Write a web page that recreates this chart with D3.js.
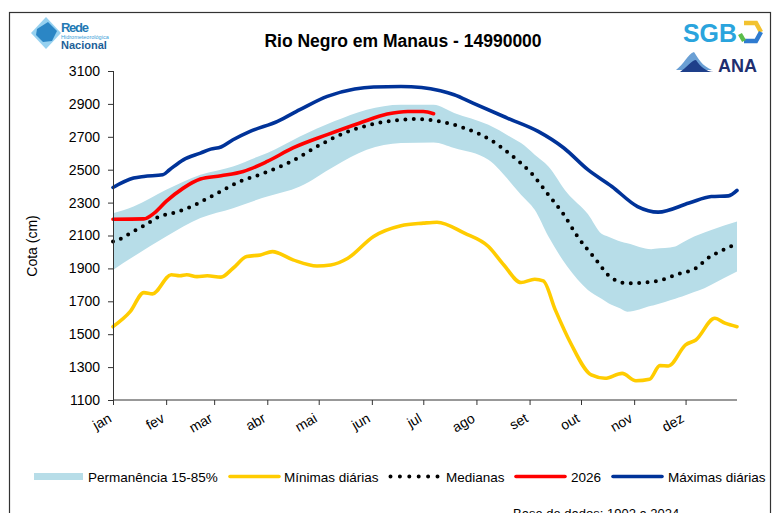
<!doctype html>
<html>
  <head>
    <meta charset="utf-8">
    <script src="https://cdnjs.cloudflare.com/ajax/libs/d3/7.8.5/d3.min.js"></script>
    <style>
      body { margin: 0; background: #fff; }
      svg { display: block; font-family: "Liberation Sans", Arial, sans-serif; }
      .axis text { font-size: 14px; fill: #000; }
      .axis path, .axis line { stroke: #333; }
      .legend text { font-size: 13.5px; fill: #000; }
    </style>
  </head>
  <body>
    <svg width="772" height="513"></svg>
    <script>
      // day of year (0 = 1 jan) and level in cm
      var months = ["jan", "fev", "mar", "abr", "mai", "jun", "jul", "ago", "set", "out", "nov", "dez"];
      var monthStart = [0, 31, 59, 90, 120, 151, 181, 212, 243, 273, 304, 334];
      var yTicks = [1100, 1300, 1500, 1700, 1900, 2100, 2300, 2500, 2700, 2900, 3100];

      var maximas = [[0,2392],[12,2449],[18,2459],[29,2469],[33,2500],[41,2560],[51,2601],[57,2625],
        [63,2638],[70,2682],[80,2733],[96,2794],[109,2865],[125,2946],[141,2991],[152,3003],[168,3006],
        [180,3000],[191,2980],[199,2956],[210,2905],[230,2814],[248,2733],[263,2632],[277,2500],
        [291,2398],[306,2276],[318,2242],[336,2297],[349,2337],[359,2341],[364,2374]];

      var perm85 = [[0,2235],[12,2276],[31,2378],[51,2469],[70,2520],[90,2601],[109,2702],[129,2794],
        [148,2865],[168,2895],[187,2895],[199,2845],[219,2773],[238,2662],[254,2520],[265,2358],
        [277,2230],[285,2110],[296,2063],[314,2017],[328,2033],[339,2094],[349,2134],[364,2185]];

      var perm15 = [[0,1891],[12,1972],[31,2094],[51,2206],[70,2266],[84,2317],[109,2398],[129,2520],
        [148,2621],[168,2662],[187,2666],[199,2632],[219,2560],[237,2360],[246,2256],[254,2094],
        [265,1911],[277,1769],[289,1688],[300,1637],[316,1678],[332,1729],[345,1780],[364,1881]];

      var medianas = [[0,2063],[6,2088],[10,2114],[19,2165],[27,2215],[37,2242],[47,2282],[51,2303],
        [61,2358],[74,2428],[88,2479],[104,2550],[121,2652],[135,2723],[150,2773],[165,2800],
        [176,2808],[190,2794],[205,2753],[220,2682],[232,2591],[244,2479],[254,2347],[263,2226],
        [271,2094],[281,1962],[291,1840],[300,1810],[310,1814],[320,1830],[330,1867],[340,1901],
        [347,1962],[356,2013],[361,2037],[364,2050]];

      var ano2026 = [[0,2199],[18,2201],[24,2236],[31,2307],[41,2388],[51,2443],[63,2463],[76,2489],
        [90,2550],[105,2632],[125,2713],[144,2784],[160,2838],[172,2854],[181,2854],[187,2840]];

      var minimas = [[0,1546],[10,1637],[18,1753],[23,1745],[34,1861],[39,1855],[43,1861],[49,1850],
        [55,1855],[63,1847],[70,1901],[78,1972],[86,1982],[93,2002],[105,1952],[119,1915],[127,1921],
        [137,1962],[152,2094],[168,2159],[181,2175],[189,2181],[205,2114],[219,2033],[228,1921],
        [238,1814],[246,1834],[251,1824],[258,1648],[267,1445],[279,1252],[287,1232],[297,1262],
        [305,1217],[313,1226],[319,1309],[324,1307],[334,1435],[340,1465],[351,1597],[357,1567],[364,1546]];

      var svg = d3.select("svg");

      // outer frame
      svg.append("rect")
        .attr("x", 9.5).attr("y", 12.5).attr("width", 761).attr("height", 530)
        .attr("fill", "none").attr("stroke", "#333").attr("stroke-width", 1.2);

      var x = d3.scaleLinear().domain([0, 364]).range([113, 737]);
      var y = d3.scaleLinear().domain([1100, 3100]).range([400, 71]);

      // linear reading between two read points, so both band edges share the same days
      function valueAt(arr, day) {
        for (var i = 1; i < arr.length; i++) {
          if (arr[i][0] >= day) {
            var a = arr[i - 1], b = arr[i];
            return a[1] + (b[1] - a[1]) * (day - a[0]) / (b[0] - a[0]);
          }
        }
        return arr[arr.length - 1][1];
      }
      var bandDays = Array.from(new Set(perm85.map(d => d[0]).concat(perm15.map(d => d[0]))))
        .sort((a, b) => a - b);

      var area = d3.area()
        .x(d => x(d[0]))
        .y0(d => y(d[1]))
        .y1(d => y(d[2]))
        .curve(d3.curveMonotoneX);

      svg.append("path")
        .datum(bandDays.map(d => [d, valueAt(perm15, d), valueAt(perm85, d)]))
        .attr("fill", "#b7dde8")
        .attr("d", area);

      var line = d3.line()
        .x(d => x(d[0]))
        .y(d => y(d[1]))
        .curve(d3.curveMonotoneX);

      function drawLine(data, color) {
        return svg.append("path")
          .datum(data)
          .attr("fill", "none")
          .attr("stroke", color)
          .attr("stroke-width", 3.6)
          .attr("stroke-linejoin", "round")
          .attr("stroke-linecap", "round")
          .attr("d", line);
      }

      drawLine(minimas, "#ffcc00");
      drawLine(maximas, "#003399");
      drawLine(medianas, "#000")
        .attr("stroke-width", 4)
        .attr("stroke-dasharray", "0,8.4");
      drawLine(ano2026, "#ff0000");

      // axes
      svg.append("g")
        .attr("class", "axis")
        .attr("transform", "translate(113,0)")
        .call(d3.axisLeft(y).tickValues(yTicks).tickSize(5).tickPadding(8).tickFormat(d3.format("d")))
        .call(g => g.selectAll(".tick line").attr("x2", -5).attr("x1", 1));

      var xAxis = svg.append("g")
        .attr("class", "axis")
        .attr("transform", "translate(0,400)")
        .call(d3.axisBottom(x).tickValues(monthStart).tickSize(5).tickSizeOuter(0)
          .tickFormat((d, i) => months[i]));
      xAxis.select(".domain").attr("d", "M113,0H737");
      xAxis.selectAll(".tick text")
        .attr("y", null).attr("dy", null)
        .attr("text-anchor", "end")
        .attr("font-size", 13.5)
        .attr("transform", "translate(-1,21) rotate(-30)");

      svg.append("text")
        .attr("transform", "translate(37,246) rotate(-90)")
        .attr("text-anchor", "middle")
        .attr("font-size", 14)
        .text("Cota (cm)");

      svg.append("text")
        .attr("x", 403).attr("y", 47)
        .attr("text-anchor", "middle")
        .attr("font-size", 17.5)
        .attr("font-weight", "bold")
        .text("Rio Negro em Manaus - 14990000");

      // legend
      var lg = svg.append("g").attr("class", "legend");
      lg.append("rect").attr("x", 34).attr("y", 473).attr("width", 49).attr("height", 7).attr("fill", "#b7dde8");
      lg.append("text").attr("x", 88).attr("y", 481.5).text("Permanência 15-85%");
      var legendLines = [
        { x1: 230, x2: 279, color: "#ffcc00", label: "Mínimas diárias", tx: 284 },
        { x1: 516, x2: 565, color: "#ff0000", label: "2026", tx: 571 },
        { x1: 613, x2: 662, color: "#003399", label: "Máximas diárias", tx: 668 }
      ];
      legendLines.forEach(function (d) {
        lg.append("line").attr("x1", d.x1).attr("x2", d.x2).attr("y1", 476.5).attr("y2", 476.5)
          .attr("stroke", d.color).attr("stroke-width", 3.6).attr("stroke-linecap", "round");
        lg.append("text").attr("x", d.tx).attr("y", 481.5).text(d.label);
      });
      lg.append("line").attr("x1", 390.5).attr("x2", 438).attr("y1", 476.5).attr("y2", 476.5)
        .attr("stroke", "#000").attr("stroke-width", 4).attr("stroke-linecap", "round")
        .attr("stroke-dasharray", "0,9.4");
      lg.append("text").attr("x", 446).attr("y", 481.5).text("Medianas");

      svg.append("text")
        .attr("x", 513).attr("y", 518)
        .attr("font-size", 13)
        .text("Base de dados: 1902 a 2024");

      // logos (simplified)
      var rede = svg.append("g").attr("transform", "translate(46,33)");
      rede.append("path").attr("d", "M0,-16 L15,0 L0,16 L-15,0 Z").attr("fill", "#7cc6ec").attr("opacity", 0.8);
      rede.append("path").attr("d", "M-9,-4 L2,-11 L11,-2 L6,8 L-3,9 L-10,2 Z").attr("fill", "#2b86c5");
      var redeText = svg.append("g").attr("fill", "#2379b4");
      redeText.append("text").attr("x", 61).attr("y", 31.5).attr("font-size", 13).attr("font-weight", "bold")
        .attr("textLength", 28).text("Rede");
      redeText.append("text").attr("x", 61).attr("y", 39).attr("font-size", 5.5).attr("fill", "#3aa0d8")
        .text("Hidrometeorológica");
      redeText.append("text").attr("x", 61).attr("y", 48.5).attr("font-size", 11).attr("font-weight", "bold")
        .attr("fill", "#1d5f98").text("Nacional");

      svg.append("text").attr("x", 683).attr("y", 42).attr("font-size", 25).attr("font-weight", "900")
        .attr("fill", "#2aa4dd").attr("textLength", 54).attr("lengthAdjust", "spacingAndGlyphs").text("SGB");
      var hex = svg.append("g").attr("transform", "translate(750,32)").attr("fill", "none").attr("stroke-width", 4.5);
      hex.append("path").attr("d", "M-6,-9 L6,-9 L11,0").attr("stroke", "#f2c230");
      hex.append("path").attr("d", "M11,0 L6,9 L-6,9").attr("stroke", "#2f7bd0");
      hex.append("path").attr("d", "M-6,9 L-10,2").attr("stroke", "#5bbd4a");

      var ana = svg.append("g").attr("transform", "translate(676,52)");
      ana.append("path").attr("d", "M0,18 C8,12 12,2 18,0 C22,6 26,14 36,18 Z").attr("fill", "#6a9fd4");
      ana.append("path").attr("d", "M4,20 C10,16 16,8 20,8 C24,14 30,20 38,20 Z").attr("fill", "#1e3f8a");
      svg.append("text").attr("x", 718).attr("y", 72).attr("font-size", 18).attr("font-weight", "bold")
        .attr("fill", "#1f2f70").text("ANA");
    </script>
  </body>
</html>
